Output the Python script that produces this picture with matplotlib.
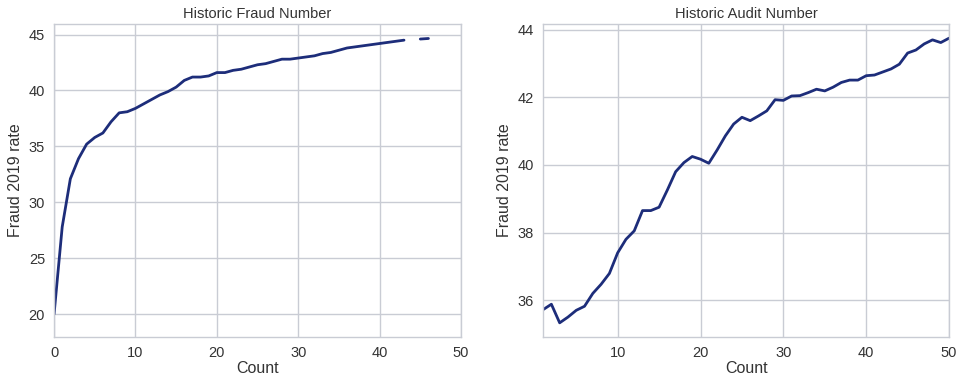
import numpy as np
import matplotlib
matplotlib.use('Agg')
import matplotlib.pyplot as plt
import seaborn as sns

#%% Data

# Historic fraud number (count 44 is missing)
fraud_count = list(range(0, 47))
fraud_rate = [20.0, 27.8, 32.1, 33.9, 35.2, 35.8, 36.2, 37.2, 38.0, 38.1,
              38.4, 38.8, 39.2, 39.6, 39.9, 40.3, 40.9, 41.2, 41.2, 41.3,
              41.6, 41.6, 41.8, 41.9, 42.1, 42.3, 42.4, 42.6, 42.8, 42.8,
              42.9, 43.0, 43.1, 43.3, 43.4, 43.6, 43.8, 43.9, 44.0, 44.1,
              44.2, 44.3, 44.4, 44.5, np.nan, 44.6, 44.65]

# Historic audit number
audit_count = list(range(1, 51))
audit_rate = [35.72, 35.88, 35.33, 35.50, 35.70, 35.82, 36.20, 36.47, 36.79, 37.40,
              37.80, 38.05, 38.65, 38.65, 38.75, 39.26, 39.80, 40.07, 40.25, 40.17,
              40.05, 40.44, 40.86, 41.21, 41.41, 41.31, 41.45, 41.60, 41.93, 41.91,
              42.04, 42.05, 42.14, 42.24, 42.19, 42.30, 42.44, 42.51, 42.51, 42.64,
              42.66, 42.75, 42.84, 42.98, 43.31, 43.40, 43.58, 43.70, 43.62, 43.75]

#%% Plot

sns.set_style('whitegrid')
plt.rcParams['font.family'] = ['Liberation Sans', 'DejaVu Sans']

line_color = '#1d2d7a'
grid_color = '#c9ccd4'

fig = plt.figure(figsize=(9.57, 3.8), dpi=100)
ax1 = fig.add_axes([0.0565, 0.113, 0.4252, 0.824])
ax2 = fig.add_axes([0.5675, 0.113, 0.4242, 0.824])

# Left panel
ax1.plot(fraud_count, fraud_rate, color=line_color, linewidth=2)
ax1.set_xlim(0, 50)
ax1.set_ylim(17.95, 45.95)
ax1.set_xticks([0, 10, 20, 30, 40, 50])
ax1.set_yticks([20, 25, 30, 35, 40, 45])
ax1.set_title('Historic Fraud Number', fontsize=10.5, color='#333333', pad=4)
ax1.set_xlabel('Count', fontsize=11.5, color='#333333', labelpad=1)
ax1.set_ylabel('Fraud 2019 rate', fontsize=11.5, color='#333333', labelpad=4)

# Right panel
ax2.plot(audit_count, audit_rate, color=line_color, linewidth=2)
ax2.set_xlim(1, 50)
ax2.set_xticks([10, 20, 30, 40, 50])
ax2.set_yticks([36, 38, 40, 42, 44])
ax2.set_title('Historic Audit Number', fontsize=10.5, color='#333333', pad=4)
ax2.set_xlabel('Count', fontsize=11.5, color='#333333', labelpad=1)
ax2.set_ylabel('Fraud 2019 rate', fontsize=11.5, color='#333333', labelpad=4)

for ax in (ax1, ax2):
    ax.grid(True, color=grid_color, linewidth=1)
    ax.tick_params(labelsize=10.5, colors='#333333', pad=3)
    for sp in ax.spines.values():
        sp.set_color(grid_color)
        sp.set_linewidth(1)

fig.savefig('out.png', dpi=100)
